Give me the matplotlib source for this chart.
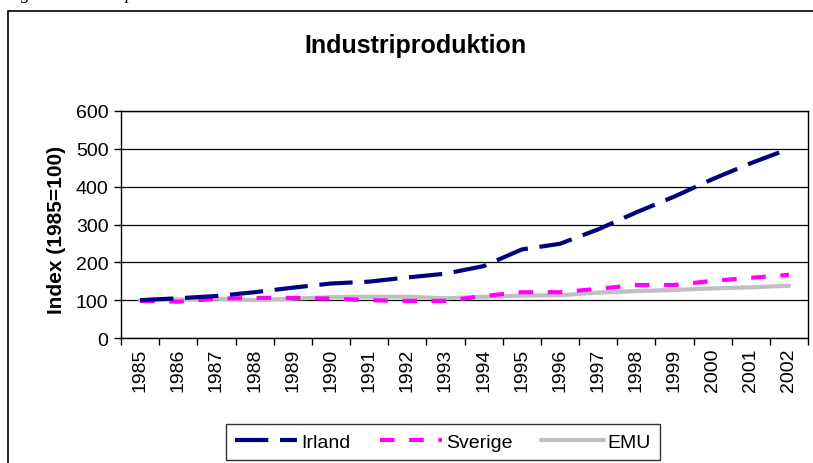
import numpy as np
import matplotlib
matplotlib.use('Agg')
import matplotlib.pyplot as plt
from matplotlib.patches import Rectangle

plt.rcParams['font.family'] = ['Liberation Sans', 'DejaVu Sans']

years = ['1985', '1986', '1987', '1988', '1989', '1990', '1991', '1992', '1993',
         '1994', '1995', '1996', '1997', '1998', '1999', '2000', '2001', '2002']
irland = [100, 105, 111, 121, 133, 144, 149, 160, 170, 190, 234, 249, 287, 332, 374, 420, 462, 500]
sverige = [98, 96, 104, 106, 106, 104, 100, 98, 98, 111, 121, 121, 130, 140, 140, 151, 159, 167]
emu = [100, 102, 104, 100, 104, 108, 109, 109, 105, 109, 112, 113, 120, 124, 127, 131, 134, 138]
yticks = [0, 100, 200, 300, 400, 500, 600]

W, H = 813, 464
fig = plt.figure(figsize=(W / 100, H / 100), dpi=100)

# outer frame of the chart object
fig.patches.append(Rectangle((8 / W, -0.05), 1.0, 1 - 12 / H + 0.05,
                             transform=fig.transFigure, fill=False,
                             edgecolor='black', lw=1.2))

# caption above the frame, cut off by the picture's top edge
fig.text(5 / W, 1 + 1 / H, 'Figur 3. Industriproduktion', fontsize=13,
         family='Liberation Serif', style='italic', va='baseline', ha='left')

ax = fig.add_axes([121 / W, 1 - 339 / H, (808 - 121) / W, (339 - 112) / H])

x = np.arange(len(years))
ax.plot(x, irland, color='#000080', lw=3.0, linestyle=(0, (8, 2.8)),
        dash_capstyle='butt', label='Irland', zorder=4)
ax.plot(x, sverige, color='#FF00FF', lw=3.0, linestyle=(0, (3.5, 3.5)),
        dash_capstyle='butt', label='Sverige', zorder=3)
ax.plot(x, emu, color='#C0C0C0', lw=3.0, solid_capstyle='round',
        label='EMU', zorder=2)

ax.set_xlim(-0.5, len(years) - 0.5)
ax.set_ylim(0, 600)
ax.set_yticks(yticks)
ax.set_yticklabels([str(v) for v in yticks], fontsize=14)
ax.yaxis.grid(True, color='black', lw=0.9)
ax.set_axisbelow(True)

# category ticks between categories, labels at centres
ax.set_xticks(np.arange(len(years) + 1) - 0.5)
ax.set_xticklabels([])
ax.set_xticks(x, minor=True)
ax.set_xticklabels(years, minor=True, rotation=90, fontsize=14)
ax.tick_params(axis='x', which='major', direction='out', length=5, width=1)
ax.tick_params(axis='x', which='minor', length=0, pad=7)
ax.tick_params(axis='y', direction='out', length=5, width=1, pad=4)

for s in ax.spines.values():
    s.set_color('black')
    s.set_linewidth(1)

fig.text(415 / W, 1 - 46 / H, 'Industriproduktion', fontsize=18,
         fontweight='bold', ha='center', va='center')
fig.text(57 / W, 1 - 230 / H, 'Index (1985=100)', fontsize=15,
         fontweight='bold', ha='center', va='center', rotation=90)

leg = fig.legend(loc='center', bbox_to_anchor=(443 / W, 1 - 443 / H),
                 ncol=3, fontsize=14, frameon=True, fancybox=False,
                 edgecolor='black', handlelength=3.2, handletextpad=0.2,
                 columnspacing=1.5, borderpad=0.45)
leg.get_frame().set_linewidth(1)

fig.savefig('out.png', dpi=100)
